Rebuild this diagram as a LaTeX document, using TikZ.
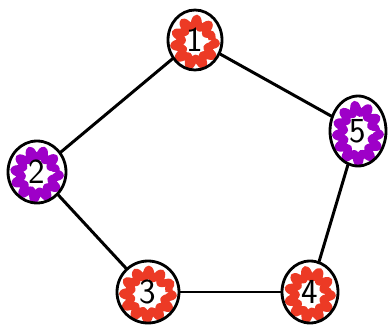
\documentclass[tikz,border=0pt]{standalone}
\usepackage{tikz}
\usetikzlibrary{positioning,shapes.geometric,decorations.pathmorphing}
\definecolor{MarkRed}{RGB}{236,58,37}
\definecolor{MarkPurple}{RGB}{158,0,200}
\tikzset{
	v/.style={ellipse,draw=black,line width=1.6pt,inner sep=0pt,
		font=\sffamily\fontsize{20}{20}\selectfont},
	edge/.style={draw=black,line width=1.7pt,line cap=round},
	scrib/.style={draw=#1,line width=4.2pt,line join=round,decorate,
		decoration={snake,amplitude=0.85mm,segment length=2.2mm}},
}
\begin{document}
\begin{tikzpicture}[x=0.02cm,y=-0.02cm]
	\useasboundingbox (0,0) rectangle (388,331);
	\coordinate (p1) at (195,40);
	\coordinate (p2) at (37,172);
	\coordinate (p3) at (148,292);
	\coordinate (p4) at (310,292);
	\coordinate (p5) at (358,131);
	% coloured scribble rings under the vertices
	\foreach \n/\w/\h/\c in {1/54/60/MarkRed,2/58/62/MarkPurple,3/62/62/MarkRed,
		4/56/62/MarkRed,5/56/70/MarkPurple}
	\draw[scrib=\c] (p\n) ellipse ({\w/2-10} and {\h/2-10});
	\foreach \n/\w/\h in {1/54/60,2/58/62,3/62/62,4/56/62,5/56/70}
	\node[v,minimum width={\w*0.02cm},minimum height={\h*0.02cm}] (n\n) at (p\n) {\n};
	\foreach \x/\y in {1/2,1/5,5/4,4/3,3/2}
	\draw[edge] (n\x)--(n\y);
\end{tikzpicture}
\end{document}
